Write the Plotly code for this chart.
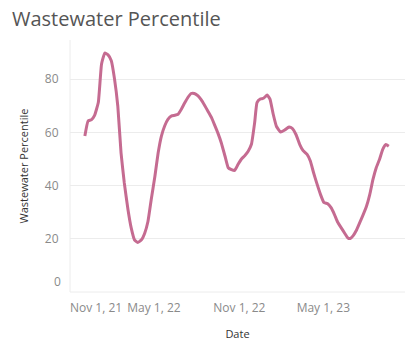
import plotly.graph_objects as go

dates = [
    "2021-12-03", "2021-12-10", "2021-12-17", "2021-12-24", "2022-01-01", "2022-01-08",
    "2022-01-15", "2022-01-22", "2022-01-29", "2022-02-05", "2022-02-12", "2022-02-19",
    "2022-02-26", "2022-03-06", "2022-03-13", "2022-03-20", "2022-03-27", "2022-04-04",
    "2022-04-11", "2022-04-18", "2022-04-25", "2022-05-03", "2022-05-10", "2022-05-17",
    "2022-05-24", "2022-05-31", "2022-06-08", "2022-06-15", "2022-06-22", "2022-06-29",
    "2022-07-06", "2022-07-13", "2022-07-20", "2022-07-27", "2022-08-04", "2022-08-11",
    "2022-08-18", "2022-08-25", "2022-09-02", "2022-09-09", "2022-09-16", "2022-09-23",
    "2022-10-01", "2022-10-08", "2022-10-15", "2022-10-22", "2022-10-29", "2022-11-06",
    "2022-11-13", "2022-11-20", "2022-11-27", "2022-12-04", "2022-12-09", "2022-12-16",
    "2022-12-23", "2022-12-31", "2023-01-06", "2023-01-13", "2023-01-20", "2023-01-29",
    "2023-02-07", "2023-02-16", "2023-02-23", "2023-03-03", "2023-03-11", "2023-03-18",
    "2023-03-27", "2023-04-03", "2023-04-10", "2023-04-17", "2023-04-25", "2023-05-02",
    "2023-05-11", "2023-05-18", "2023-05-25", "2023-06-01", "2023-06-09", "2023-06-16",
    "2023-06-23", "2023-06-28", "2023-07-04", "2023-07-11", "2023-07-18", "2023-07-25",
    "2023-08-02", "2023-08-09", "2023-08-16", "2023-08-23", "2023-08-30", "2023-09-06",
    "2023-09-13", "2023-09-19",
]
percentile = [
    58.6, 64.3, 64.7, 66.4, 71.2, 85.7,
    89.8, 89.1, 86.9, 80.0, 69.9, 52.3,
    41.0, 30.9, 24.0, 19.6, 18.6, 19.6,
    22.1, 26.5, 34.7, 43.5, 52.3, 58.6,
    62.4, 64.9, 66.2, 66.4, 66.8, 68.7,
    71.0, 73.1, 74.6, 74.6, 73.7, 72.2,
    70.2, 68.0, 65.5, 62.6, 59.6, 56.1,
    51.1, 46.7, 46.0, 45.7, 47.9, 50.1,
    51.3, 52.9, 55.5, 63.7, 71.2, 72.5,
    72.8, 74.0, 72.5, 66.8, 62.2, 60.1,
    60.9, 62.0, 61.5, 59.2, 55.5, 53.2,
    51.7, 49.2, 44.8, 40.8, 36.6, 33.7,
    33.1, 31.6, 29.1, 26.2, 24.0, 22.1,
    20.3, 20.1, 21.1, 23.1, 25.9, 28.7,
    32.2, 36.6, 42.3, 46.7, 49.8, 53.6,
    55.4, 54.8,
]

x_tick_vals = ["2021-11-01", "2022-05-01", "2022-11-01", "2023-05-01"]
x_tick_text = ["Nov 1, 21", "May 1, 22", "Nov 1, 22", "May 1, 23"]
y_tick_vals = [0, 20, 40, 60, 80]
y_tick_text = ["0", "20", "40", "60", "80"]

x_range = ["2021-11-01", "2023-10-24"]
y_range = [0, 94.7]

FONT = "Open Sans"
TICK_COLOR = "#8a8a8a"

fig = go.Figure()
fig.add_trace(go.Scatter(
    x=dates, y=percentile, mode="lines",
    line=dict(color="#c56b91", width=3, shape="spline", smoothing=0.4),
    hoverinfo="skip", showlegend=False,
))

xt_text_axis = [""] + x_tick_text[1:]
yt_text_axis = [""] + y_tick_text[1:]

fig.update_layout(
    width=410, height=351,
    margin=dict(l=70, r=5, t=40, b=59),
    paper_bgcolor="white", plot_bgcolor="white",
    font=dict(family=FONT, size=12, color=TICK_COLOR),
    title=dict(text="Wastewater Percentile", x=0, xref="container", xanchor="left",
               y=0.945, yref="container", yanchor="middle", pad=dict(l=12),
               font=dict(family=FONT, size=20, color="#555555")),
    xaxis=dict(
        range=x_range, tickmode="array", tickvals=x_tick_vals, ticktext=xt_text_axis,
        showgrid=False, zeroline=False, showline=False,
        ticks="outside", ticklen=5, tickcolor="rgba(0,0,0,0)",
        tickfont=dict(family=FONT, size=12, color=TICK_COLOR),
        title=dict(text="Date", standoff=14, font=dict(family=FONT, size=11, color="#333333")),
        fixedrange=True,
    ),
    yaxis=dict(
        range=y_range, tickmode="array", tickvals=y_tick_vals, ticktext=yt_text_axis,
        showgrid=True, gridcolor="#ececec", gridwidth=1, zeroline=False,
        showline=False, ticks="outside", ticklen=8, tickcolor="rgba(0,0,0,0)",
        tickfont=dict(family=FONT, size=12, color=TICK_COLOR),
        title=dict(text="Wastewater Percentile", standoff=14,
                   font=dict(family=FONT, size=11, color="#333333")),
        fixedrange=True,
    ),
)

fig.add_shape(type="line", xref="paper", yref="paper", x0=0, x1=0, y0=0, y1=1,
              line=dict(color="#ececec", width=1))
fig.add_shape(type="line", xref="paper", yref="paper", x0=0, x1=1, y0=0, y1=0,
              line=dict(color="#ececec", width=1))

fig.add_annotation(x=x_tick_vals[0], y=0, xref="x", yref="paper", text=x_tick_text[0],
                   showarrow=False, xanchor="left", yanchor="top", yshift=-5, xshift=-2,
                   font=dict(family=FONT, size=12, color=TICK_COLOR))
fig.add_annotation(x=0, y=y_tick_vals[0], xref="paper", yref="y", text=y_tick_text[0],
                   showarrow=False, xanchor="right", yanchor="bottom", xshift=-7, yshift=0,
                   font=dict(family=FONT, size=12, color=TICK_COLOR))

fig.write_html("out.html")
